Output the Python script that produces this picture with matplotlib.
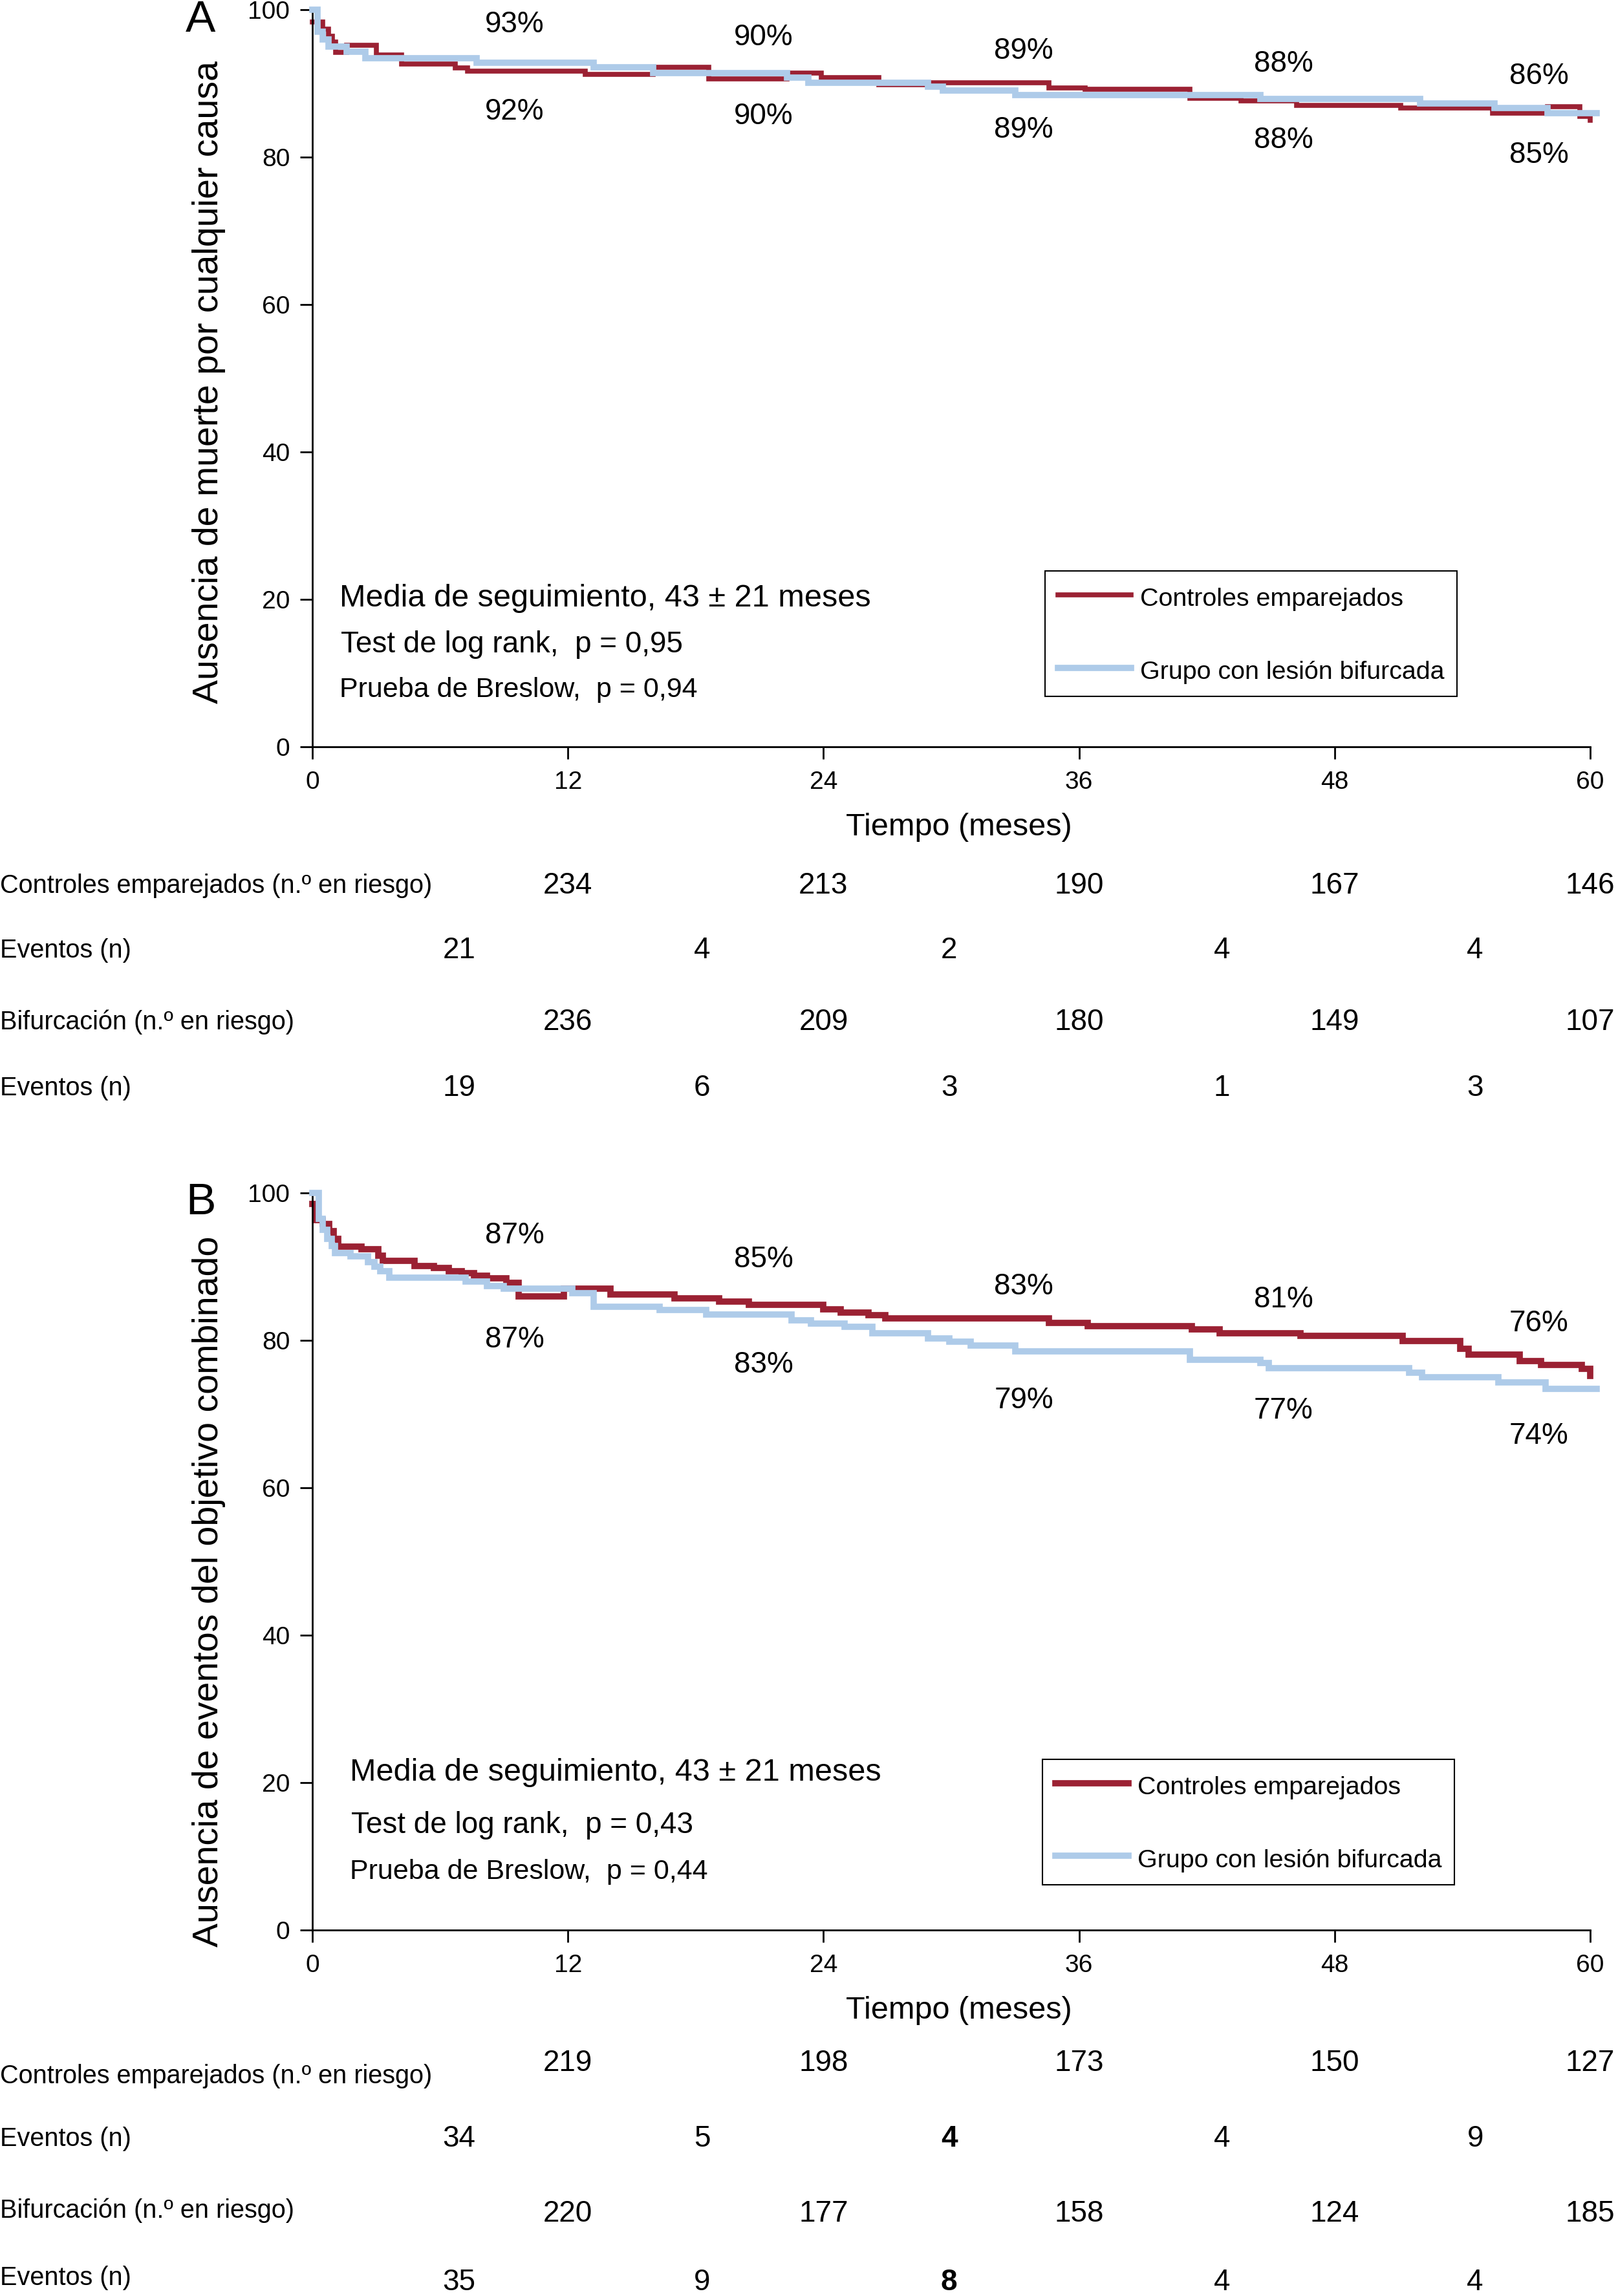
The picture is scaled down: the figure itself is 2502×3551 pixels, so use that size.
import matplotlib
matplotlib.use("Agg")
import matplotlib.pyplot as plt
from matplotlib import transforms

plt.rcParams['font.family'] = ['Liberation Sans', 'DejaVu Sans']

W, H = 2502, 3551

# curvas de Kaplan-Meier
tA_ctrl = [0, 0.5, 0.75, 0.95, 1.1, 1.6, 3.0, 4.2, 6.7, 7.3, 12.8, 16.0, 18.6, 22.3, 23.9,
           26.6, 28.8, 34.6, 36.3, 41.2, 43.6, 46.2, 51.1, 55.4, 58.0, 59.5, 60.0]
sA_ctrl = [98.3, 97.4, 96.4, 95.6, 94.2, 95.2, 93.9, 92.6, 92.1, 91.7, 91.2, 92.2, 90.6, 91.4, 90.8,
           89.8, 90.1, 89.4, 89.2, 88.0, 87.6, 87.0, 86.7, 86.0, 86.8, 85.5, 85.0]
tA_bif = [0, 0.25, 0.5, 0.75, 1.6, 2.5, 7.7, 13.2, 16.0, 22.3, 23.3, 28.9, 29.6, 33.0, 44.5,
          52.0, 55.5, 58.0, 60.3]
sA_bif = [100, 97.0, 96.0, 95.0, 94.3, 93.4, 92.8, 92.2, 91.4, 90.8, 90.1, 89.6, 89.0, 88.4, 87.9,
          87.3, 86.7, 86.0, 86.0]

tB_ctrl = [0, 0.15, 0.5, 0.8, 1.0, 1.2, 2.3, 3.1, 3.3, 4.8, 5.7, 6.4, 7.0, 7.6, 8.2, 9.1, 9.7,
           11.8, 14.0, 17.0, 19.1, 20.5, 24.0, 24.8, 26.1, 26.9, 34.6, 36.4, 41.3, 42.6, 46.4,
           51.2, 53.9, 54.3, 56.7, 57.7, 59.6, 60.0]
sB_ctrl = [98.5, 96.3, 95.8, 94.8, 93.8, 92.7, 92.4, 91.5, 90.8, 90.1, 89.8, 89.4, 89.1, 88.8, 88.4,
           87.8, 86.0, 87.0, 86.2, 85.7, 85.3, 84.8, 84.2, 83.8, 83.4, 83.0, 82.4, 81.9, 81.5,
           81.0, 80.6, 79.9, 78.9, 78.1, 77.2, 76.7, 76.1, 75.2]
tB_bif = [0, 0.3, 0.5, 0.7, 0.9, 1.06, 1.8, 2.6, 2.9, 3.2, 3.6, 7.2, 8.2, 9.0, 12.2, 13.2, 16.3,
          18.5, 22.5, 23.4, 25.0, 26.3, 28.9, 29.9, 30.9, 33.0, 41.2, 44.5, 44.9, 51.5, 52.1,
          55.7, 57.9, 60.3]
sB_bif = [100, 96.5, 95.0, 93.8, 92.8, 91.8, 91.4, 90.6, 90.0, 89.4, 88.5, 88.0, 87.4, 87.0, 86.4,
          84.6, 84.1, 83.5, 82.7, 82.3, 81.8, 81.0, 80.3, 79.8, 79.3, 78.5, 77.4, 76.9, 76.2,
          75.6, 75.0, 74.3, 73.4, 73.4]

# porcentajes anotados
pctA_top = ['93%', '90%', '89%', '88%', '86%']
pctA_bot = ['92%', '90%', '89%', '88%', '85%']
pctB_top = ['87%', '85%', '83%', '81%', '76%']
pctB_bot = ['87%', '83%', '79%', '77%', '74%']

# tabla de pacientes en riesgo
meses = [12, 24, 36, 48, 60]
A_ctrl_riesgo = [234, 213, 190, 167, 146]
A_ctrl_eventos = [21, 4, 2, 4, 4]
A_bif_riesgo = [236, 209, 180, 149, 107]
A_bif_eventos = [19, 6, 3, 1, 3]
B_ctrl_riesgo = [219, 198, 173, 150, 127]
B_ctrl_eventos = [34, 5, 4, 4, 9]
B_bif_riesgo = [220, 177, 158, 124, 185]
B_bif_eventos = [35, 9, 8, 4, 4]

ROJO = '#9b2133'
AZUL = '#aecbe9'

fig = plt.figure(figsize=(W / 100, H / 100), dpi=100)


def fy(ypx):
    return 1 - ypx / H


def panel(bottom_px, t_c, s_c, t_b, s_b, ylabel, ylab_y, lw_c, lw_b,
          top_lbl, bot_lbl, top_y, bot_y, stats, stats_px, leg_xy):
    ax = fig.add_axes([483 / W, 1 - bottom_px / H, 1976 / W, 1140 / H])
    ax.step(t_c, s_c, where='post', color=ROJO, lw=lw_c, clip_on=False,
            solid_joinstyle='miter', label='Controles emparejados', zorder=2)
    ax.step(t_b, s_b, where='post', color=AZUL, lw=lw_b, clip_on=False,
            solid_joinstyle='miter', label='Grupo con lesión bifurcada', zorder=3)
    ax.set_xlim(0, 60)
    ax.set_ylim(0, 100)
    ax.set_xticks([0] + meses)
    ax.set_yticks([0, 20, 40, 60, 80, 100])
    for s in ['top', 'right']:
        ax.spines[s].set_visible(False)
    for s in ['left', 'bottom']:
        ax.spines[s].set_linewidth(2)
    ax.tick_params(direction='out', length=14, width=2, labelsize=28, pad=11)
    ax.tick_params(axis='x', pad=13)
    ax.set_xlabel('Tiempo (meses)', fontsize=35)
    ax.xaxis.set_label_coords(0.506, -0.109)
    ax.xaxis.label.set_va('center')
    ax.set_ylabel(ylabel, fontsize=40)
    ax.yaxis.set_label_coords(-0.081, ylab_y)
    ax.yaxis.label.set_va('center')

    xs = [9.5, 21.2, 33.4, 45.6, 57.6]
    for x, lbl, y in zip(xs, top_lbl, top_y):
        ax.text(x, y, lbl, fontsize=33, ha='center', va='center', clip_on=False)
    for x, lbl, y in zip(xs, bot_lbl, bot_y):
        ax.text(x, y, lbl, fontsize=33, ha='center', va='center', clip_on=False)

    for (txt, size), (x, y) in zip(stats, stats_px):
        fig.text(x / W, fy(y), txt, fontsize=size, ha='left', va='center')

    leg = ax.legend(loc='upper left', bbox_to_anchor=leg_xy, borderaxespad=0,
                    fontsize=28.4, handlelength=2.87, handletextpad=0.36,
                    handleheight=1.25, labelspacing=1.79, borderpad=0.5,
                    fancybox=False, framealpha=1, edgecolor='black')
    leg.get_frame().set_linewidth(1.5)
    return ax


axA = panel(1155, tA_ctrl, sA_ctrl, tA_bif, sA_bif,
            'Ausencia de muerte por cualquier causa', 0.4947, 5.5, 7,
            pctA_top, pctA_bot,
            [98.0, 96.2, 94.4, 92.6, 91.0], [86.1, 85.5, 83.7, 82.3, 80.3],
            [('Media de seguimiento, 43 ± 21 meses', 35),
             ('Test de log rank,  p = 0,95', 33),
             ('Prueba de Breslow,  p = 0,94', 31)],
            [(525, 926), (527, 997), (525, 1067)],
            (0.5734, 0.2386))

axB = panel(2985, tB_ctrl, sB_ctrl, tB_bif, sB_bif,
            'Ausencia de eventos del objetivo combinado', 0.4596, 7, 7,
            pctB_top, pctB_bot,
            [94.2, 91.0, 87.3, 85.5, 82.3], [80.1, 76.7, 71.8, 70.4, 67.0],
            [('Media de seguimiento, 43 ± 21 meses', 35),
             ('Test de log rank,  p = 0,43', 33),
             ('Prueba de Breslow,  p = 0,44', 31)],
            [(541, 2741), (543, 2823), (541, 2895)],
            (0.5714, 0.2316))

fig.text(310 / W, fy(31), 'A', fontsize=50, ha='center', va='center')
fig.text(310 / W, fy(1860), 'B', fontsize=50, ha='center', va='center')

# tabla bajo cada panel
ev_pos = [6.9, 18.3, 29.9, 42.7, 54.6]


def tabla(ax, filas, bold=()):
    tr = transforms.blended_transform_factory(ax.transData, fig.transFigure)
    for nombre, y_lbl, y_num, xs, valores in filas:
        fig.text(0, fy(y_lbl), nombre, fontsize=28.5, ha='left', va='center')
        for i, (x, v) in enumerate(zip(xs, valores)):
            w = 'bold' if (y_num, i) in bold else 'normal'
            ax.text(x, fy(y_num), str(v), transform=tr, fontsize=33,
                    ha='center', va='center', fontweight=w, clip_on=False)


tabla(axA, [
    ('Controles emparejados (n.º en riesgo)', 1370, 1370, meses, A_ctrl_riesgo),
    ('Eventos (n)', 1470, 1470, ev_pos, A_ctrl_eventos),
    ('Bifurcación (n.º en riesgo)', 1581, 1581, meses, A_bif_riesgo),
    ('Eventos (n)', 1683, 1683, ev_pos, A_bif_eventos),
])
tabla(axB, [
    ('Controles emparejados (n.º en riesgo)', 3211, 3191, meses, B_ctrl_riesgo),
    ('Eventos (n)', 3308, 3308, ev_pos, B_ctrl_eventos),
    ('Bifurcación (n.º en riesgo)', 3419, 3424, meses, B_bif_riesgo),
    ('Eventos (n)', 3523, 3530, ev_pos, B_bif_eventos),
], bold={(3308, 2), (3530, 2)})

fig.savefig('out.png', dpi=100)
